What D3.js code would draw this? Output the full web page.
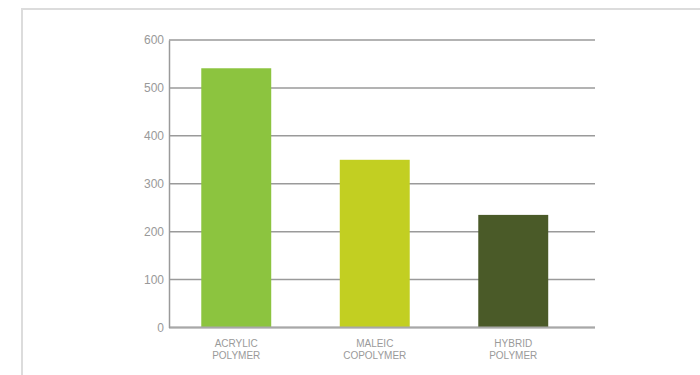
<!DOCTYPE html>
<html>
<head>
<meta charset="utf-8">
<script src="https://cdn.jsdelivr.net/npm/d3@7"></script>
<style>
  body { margin: 0; background: #fff; }
  svg { display: block; }
</style>
</head>
<body>
<script>
const categories = [['ACRYLIC', 'POLYMER'], ['MALEIC', 'COPOLYMER'], ['HYBRID', 'POLYMER']];
const values = [541, 350, 235];
const colors = ['#8cc43f', '#c2cf22', '#4a5a28'];
const yTicks = [0, 100, 200, 300, 400, 500, 600];

const width = 700;
const height = 375;

const svg = d3.select('body')
  .append('svg')
  .attr('width', width)
  .attr('height', height);

// light frame along top and left
svg.append('path')
  .attr('d', 'M22,375V9H700')
  .attr('fill', 'none')
  .attr('stroke', '#dcdcdc')
  .attr('stroke-width', 2);

const x = d3.scaleBand()
  .domain(d3.range(values.length))
  .range([167, 582.5])
  .paddingInner(0.495)
  .paddingOuter(0.2475);

const y = d3.scaleLinear()
  .domain([0, 600])
  .range([327.5, 40]);

// gridlines
svg.append('g')
  .selectAll('line')
  .data(yTicks)
  .join('line')
  .attr('x1', 169)
  .attr('x2', 595)
  .attr('y1', d => y(d))
  .attr('y2', d => y(d))
  .attr('stroke', '#9a9a9a')
  .attr('stroke-width', 1.5);

// bars
svg.append('g')
  .selectAll('rect')
  .data(values)
  .join('rect')
  .attr('x', (d, i) => x(i))
  .attr('width', x.bandwidth())
  .attr('y', d => y(d))
  .attr('height', d => y(0) - y(d))
  .attr('fill', (d, i) => colors[i]);

// baseline
svg.append('line')
  .attr('x1', 169)
  .attr('x2', 595)
  .attr('y1', y(0))
  .attr('y2', y(0))
  .attr('stroke', '#a8a8a8')
  .attr('stroke-width', 2);

// y axis
const yAxis = svg.append('g')
  .attr('transform', 'translate(169,0)')
  .call(d3.axisLeft(y).tickValues(yTicks).tickSize(0).tickPadding(5));
yAxis.select('.domain')
  .attr('stroke', '#9a9a9a')
  .attr('stroke-width', 1.5);
yAxis.selectAll('text')
  .attr('fill', '#999')
  .style('font-family', 'Liberation Sans, Arial, sans-serif')
  .style('font-size', '12px');

// category labels
const labels = svg.append('g')
  .selectAll('text')
  .data(categories)
  .join('text')
  .attr('text-anchor', 'middle')
  .attr('fill', '#9a9a9a')
  .style('font-family', 'Liberation Sans, Arial, sans-serif')
  .style('font-size', '10px');

labels.selectAll('tspan')
  .data((d, i) => d.map(t => ({ t, i })))
  .join('tspan')
  .attr('x', d => x(d.i) + x.bandwidth() / 2)
  .attr('y', (d, j) => 346.5 + j * 12.3)
  .text(d => d.t);
</script>
</body>
</html>
